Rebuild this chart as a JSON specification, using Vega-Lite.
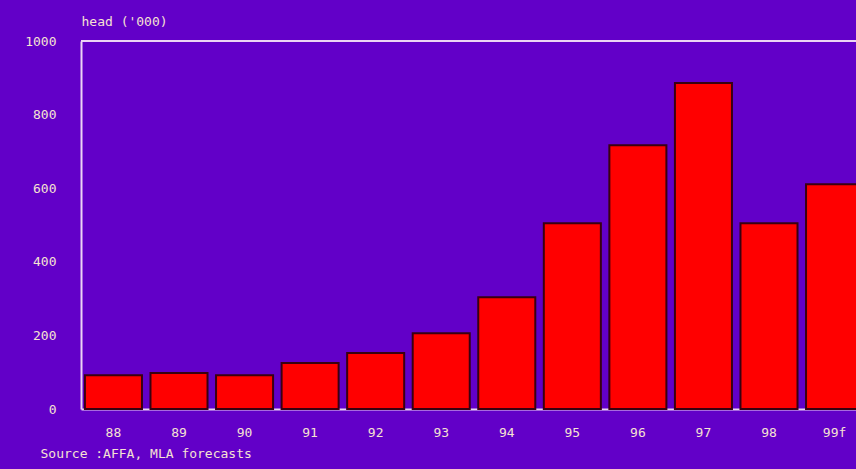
{
  "$schema": "https://vega.github.io/schema/vega-lite/v6.json",
  "width": 775,
  "height": 368,
  "autosize": {"type": "none"},
  "padding": {"left": 81, "top": 41, "right": 0, "bottom": 60},
  "background": "#6200c8",
  "config": {
    "view": {"stroke": null},
    "axis": {
      "labelFont": "DejaVu Sans Mono",
      "titleFont": "DejaVu Sans Mono",
      "labelColor": "#f6e2d2",
      "titleColor": "#f6e2d2",
      "labelFontSize": 13,
      "titleFontSize": 13,
      "titleFontWeight": "normal",
      "domainColor": "#ecd4f4",
      "domainWidth": 2,
      "ticks": false,
      "grid": false
    }
  },
  "data": {
    "values": [
      {"year": "88", "head": 92},
      {"year": "89", "head": 98},
      {"year": "90", "head": 92},
      {"year": "91", "head": 125},
      {"year": "92", "head": 152},
      {"year": "93", "head": 206},
      {"year": "94", "head": 304},
      {"year": "95", "head": 505},
      {"year": "96", "head": 717},
      {"year": "97", "head": 886},
      {"year": "98", "head": 505},
      {"year": "99f", "head": 611}
    ]
  },
  "layer": [
    {
      "mark": {"type": "bar", "color": "#ff0000", "stroke": "#3a0010", "strokeWidth": 2},
      "encoding": {
        "x": {
          "field": "year",
          "type": "nominal",
          "sort": null,
          "scale": {"range": [0, 786], "paddingInner": 0.13, "paddingOuter": 0.06},
          "axis": {
            "labelAngle": 0,
            "labelPadding": 17,
            "title": "Source :AFFA, MLA forecasts",
            "titleX": -41,
            "titleY": 38,
            "titleAlign": "left",
            "titleAnchor": null,
            "titleBaseline": "top"
          }
        },
        "y": {
          "field": "head",
          "type": "quantitative",
          "scale": {"domain": [0, 1000], "nice": false},
          "axis": {
            "values": [0, 200, 400, 600, 800, 1000],
            "format": "d",
            "labelPadding": 25,
            "title": "head ('000)",
            "titleAngle": 0,
            "titleX": 0,
            "titleY": -13,
            "titleAlign": "left",
            "titleBaseline": "bottom"
          }
        }
      }
    },
    {
      "mark": {"type": "rule", "color": "#ecd4f4", "strokeWidth": 2},
      "encoding": {"y": {"datum": 1000, "type": "quantitative"}}
    }
  ]
}
